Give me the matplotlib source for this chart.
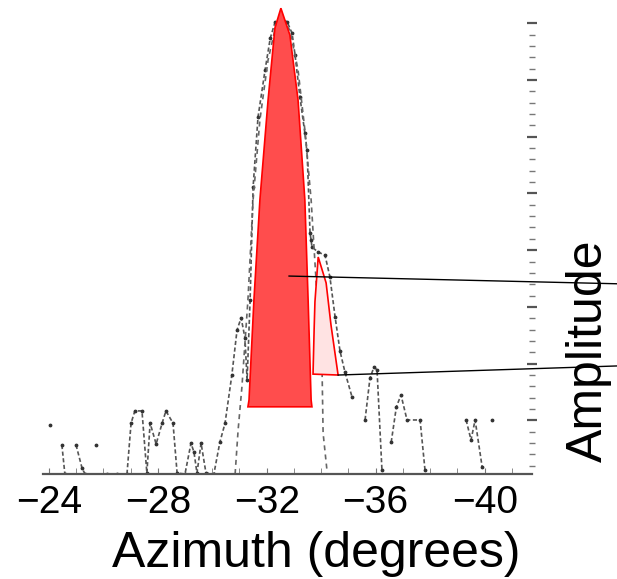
import numpy as np
import matplotlib
matplotlib.use("Agg")
import matplotlib.pyplot as plt
from matplotlib.patches import Polygon

plt.rcParams['font.family'] = ['Liberation Sans', 'DejaVu Sans']

nan = np.nan
# Broad measured response (dotted with markers); NaN separates segments
az_broad = [-24.04, nan,
            -24.48, -24.59, nan,
            -25.00, -25.22, -25.33, nan,
            -25.73, nan,
            -26.14, -26.51, -26.87, -27.02, -27.16, -27.42, -27.60, -27.72, -27.94,
            -28.16, -28.30, -28.56, -28.71, -29.00, -29.22, -29.33, -29.44, -29.59,
            -29.77, -30.06, -30.28, -30.47, -30.72, -30.91, -31.06, -31.20, -31.28,
            -31.39, -31.50, -31.68, -31.94, -32.13, -32.31, -32.49, -32.75, -32.93,
            -33.04, -33.22, -33.40, -33.48, -33.59, -33.63, -33.66, -33.88, -34.14,
            -34.32, -34.51, -34.69, -34.87, -35.13, nan,
            -35.61, -35.79, -35.94, -36.05, -36.23, nan,
            -36.57, -36.76, -36.93, -37.15, -37.63, -37.81, nan,
            -39.32, -39.50, -39.65, -39.91, nan,
            -40.27]
amp_broad = [0.108, nan,
             0.064, 0.000, nan,
             0.064, 0.013, 0.000, nan,
             0.064, nan,
             0.000, 0.000, 0.000, 0.112, 0.139, 0.139, 0.002, 0.112, 0.066,
             0.112, 0.139, 0.112, 0.002, 0.000, 0.068, 0.048, 0.002, 0.068,
             0.002, 0.000, 0.070, 0.112, 0.218, 0.317, 0.344, 0.300, 0.207,
             0.383, 0.632, 0.786, 0.890, 0.960, 0.996, 1.004, 0.996, 0.971,
             0.923, 0.830, 0.751, 0.714, 0.531, 0.515, 0.500, 0.489, 0.482,
             0.434, 0.346, 0.271, 0.225, 0.170, nan,
             0.119, 0.211, 0.236, 0.229, 0.009, nan,
             0.070, 0.148, 0.174, 0.119, 0.119, 0.009, nan,
             0.119, 0.075, 0.119, 0.015, nan,
             0.119]

# Narrow beam (dashed)
az_narrow = [-30.84, -30.95, -31.09, -31.31, -31.50, -31.75, -32.05, -32.34, -32.56,
             -32.85, -33.15, -33.40, -33.63, -33.81, -34.03, -34.07, -34.21]
amp_narrow = [0.000, 0.097, 0.192, 0.383, 0.604, 0.780, 0.912, 0.989, 1.000,
              0.978, 0.890, 0.758, 0.604, 0.427, 0.236, 0.090, 0.009]

# Highlighted main lobe (red) and side lobe (pink)
main_az = [-32.52, -32.85, -33.15, -33.40, -33.52, -33.63, -33.66,
           -31.31, -31.35, -31.53, -31.75, -32.05, -32.30]
main_amp = [1.026, 0.967, 0.824, 0.604, 0.383, 0.163, 0.148,
            0.148, 0.163, 0.383, 0.604, 0.824, 0.982]
side_az = [-33.89, -34.18, -34.36, -34.62, -33.70, -33.74, -33.77, -33.85]
side_amp = [0.478, 0.421, 0.328, 0.218, 0.220, 0.317, 0.379, 0.445]

# Leader lines (start in lobe, end at right edge)
lead1_az = [-32.82, -44.86]
lead1_amp = [0.436, 0.419]
lead2_az = [-34.62, -44.86]
lead2_amp = [0.218, 0.238]

xticks = [-24, -28, -32, -36, -40]
xticklabels = ['\u221224', '\u221228', '\u221232', '\u221236', '\u221240']

W, H = 617, 579
fig = plt.figure(figsize=(W / 100, H / 100), dpi=100)
ax_l, ax_r, ax_t, ax_b = 43, 532, 5, 474
ax = fig.add_axes([ax_l / W, 1 - ax_b / H, (ax_r - ax_l) / W, (ax_b - ax_t) / H])
px_per_deg = 27.24
x0px = 48.8
ax.set_xlim(-24 + (x0px - ax_l) / px_per_deg, -24 - (ax_r - x0px) / px_per_deg)
ax.set_ylim(0, (ax_b - ax_t) / 454)

ax.plot(az_broad, amp_broad, color='#555555', lw=1.2, ls=(0, (2.5, 1.5)),
        marker='.', ms=3.5, mfc='#333333', mec='#333333', zorder=2)
ax.plot(az_narrow, amp_narrow, color='#666666', lw=1.2, ls=(0, (3, 2.5)), zorder=2)

ax.add_patch(Polygon(np.column_stack([main_az, main_amp]), closed=True,
                     facecolor='#ff4d4d', edgecolor='#ff0000', lw=1.2, zorder=3))
ax.add_patch(Polygon(np.column_stack([side_az, side_amp]), closed=True,
                     facecolor='#ffe3e3', edgecolor='#ff0000', lw=1.2, zorder=3))

ax.plot(lead1_az, lead1_amp, color='black', lw=1.0, clip_on=False, zorder=4)
ax.plot(lead2_az, lead2_amp, color='black', lw=1.0, clip_on=False, zorder=4)

for s in ['top', 'left', 'right']:
    ax.spines[s].set_visible(False)
ax.spines['bottom'].set_color('#555555')
ax.spines['bottom'].set_linewidth(1.6)

ax.set_xticks(xticks)
ax.set_xticklabels(xticklabels)
ax.set_xticks(np.arange(-24, -42, -1), minor=True)
ax.tick_params(axis='x', which='both', direction='in', length=4, color='#777777',
               labelsize=28, pad=8)

ax.yaxis.tick_right()
ax.set_yticks(np.arange(0.993, 0.0, -0.025 * 5))
ax.set_yticks(np.arange(0.993, 0.0, -0.025), minor=True)
ax.tick_params(axis='y', which='major', direction='inout', length=7, width=1.6,
               color='#555555', labelright=False)
ax.tick_params(axis='y', which='minor', direction='inout', length=5, width=1.0,
               color='#777777', labelright=False)

fig.text(316 / W, 1 - 567 / H, 'Azimuth (degrees)', ha='center', va='baseline',
         fontsize=36)
fig.text(589 / W, 1 - 351 / H, 'Amplitude', ha='center', va='center',
         rotation=90, fontsize=36)

fig.savefig('out.png', dpi=100)
